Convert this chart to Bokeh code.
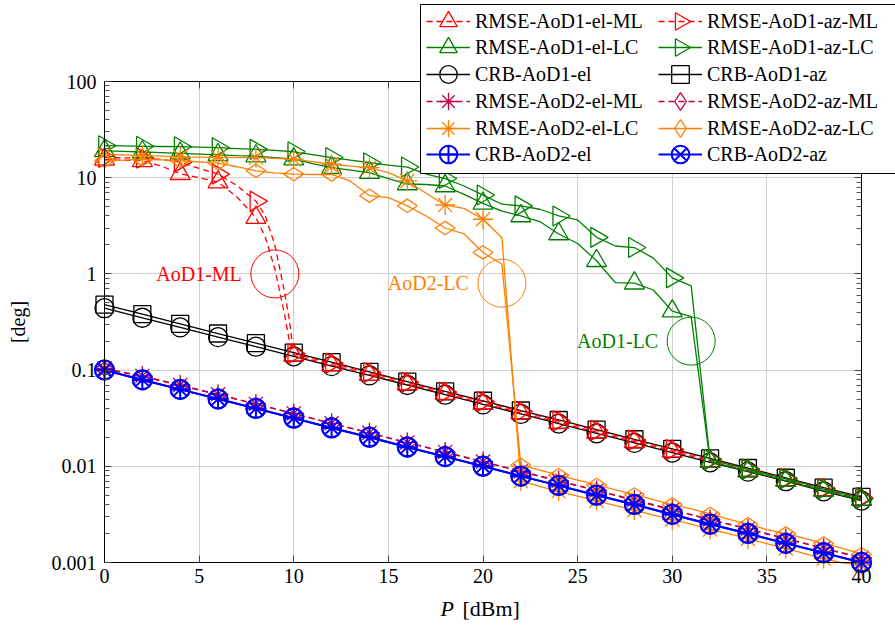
import math
import numpy as np
from bokeh.plotting import figure
from bokeh.models import (FixedTicker, LinearAxis, LogAxis, CustomJSTickFormatter, Range1d,
                          LinearScale, Legend, LegendItem, Label, BoxAnnotation, ColumnDataSource)
from bokeh.core.properties import value
from bokeh.embed import file_html
from bokeh.resources import INLINE

# ---------------- data ----------------
P_1dB = list(range(0, 41))
P_2dB = list(range(0, 41, 2))
P_ml1 = [0, 1, 2, 3, 4, 5, 6, 7, 8, 8.5, 9, 9.5, 9.75, 10] + list(range(12, 41, 2))

rmse_aod1_el_ml = [15.5, 15.2, 15.0, 13.2, 11.0, 10.0, 9.0, 6.3, 3.85, 2.4, 1.13, 0.39, 0.21, 0.142,
                   0.113, 0.09, 0.0715, 0.057, 0.045, 0.0358, 0.0285, 0.0226, 0.018, 0.0143,
                   0.0113, 0.009, 0.0072, 0.0057, 0.0045]
rmse_aod1_az_ml = [16.2, 16.1, 16.0, 15.5, 14.5, 12.5, 10.9, 8.3, 5.7, 4.0, 2.0, 0.67, 0.35, 0.148,
                   0.118, 0.094, 0.0745, 0.059, 0.047, 0.0373, 0.0297, 0.0236, 0.0187, 0.0149,
                   0.0118, 0.0094, 0.0075, 0.0059, 0.0047]

rmse_aod1_el_lc = [19.0, 18.8, 18.5, 18.2, 17.9, 17.6, 17.3, 17.0, 16.8, 16.2, 15.6,
                   14.0, 12.7, 12.0, 11.3, 9.8, 8.6, 8.5, 8.2, 6.7, 5.4,
                   4.5, 4.0, 3.5, 2.6, 2.07, 1.37, 0.81, 0.80, 0.68, 0.41, 0.36,
                   0.0112, 0.0100, 0.0089, 0.0080, 0.0071, 0.0063, 0.0056, 0.0050, 0.0045]
rmse_aod1_az_lc = [21.5, 21.4, 21.2, 21.1, 21.0, 20.8, 20.5, 20.1, 19.7, 19.2, 18.6,
                   17.4, 16.2, 15.2, 14.3, 13.5, 12.9, 10.9, 9.8, 8.2, 6.6,
                   5.3, 5.1, 4.7, 4.0, 3.64, 2.4, 1.95, 1.88, 1.46, 0.91, 0.75,
                   0.0117, 0.0104, 0.0093, 0.0083, 0.0074, 0.0066, 0.0058, 0.0052, 0.0046]

crb_aod1_el = [0.44, 0.35, 0.278, 0.22, 0.175, 0.139, 0.11, 0.088, 0.07, 0.0555, 0.044,
               0.035, 0.0278, 0.022, 0.0175, 0.0139, 0.011, 0.0088, 0.007, 0.0055, 0.0044]
crb_aod1_az = [0.48, 0.381, 0.303, 0.24, 0.191, 0.152, 0.121, 0.096, 0.076, 0.06, 0.048,
               0.038, 0.0303, 0.024, 0.0191, 0.0152, 0.0121, 0.0096, 0.0076, 0.006, 0.0048]

rmse_aod2_el_ml = [0.104, 0.087, 0.07, 0.056, 0.0445, 0.0354, 0.028, 0.0223, 0.0177, 0.0141, 0.0112,
                   0.0089, 0.0071, 0.0056, 0.0045, 0.00355, 0.0028, 0.00224, 0.00178, 0.00141, 0.00112]
rmse_aod2_az_ml = [0.103, 0.086, 0.069, 0.0555, 0.0442, 0.0352, 0.0279, 0.0222, 0.0176, 0.014, 0.0111,
                   0.0088, 0.007, 0.0056, 0.0044, 0.00352, 0.0028, 0.00222, 0.00176, 0.0014, 0.00111]

rmse_aod2_el_lc = [17.5, 17.3, 17.0, 16.8, 16.5, 16.4, 16.3, 16.2, 16.2, 15.9, 15.6,
                   14.7, 13.8, 13.2, 12.7, 11.3, 9.25, 6.9, 5.2, 4.8, 3.7, 2.38,
                   0.0070, 0.0062, 0.0055, 0.0049, 0.0044, 0.0039, 0.0035, 0.0031, 0.0028,
                   0.0025, 0.0022, 0.0020, 0.00176, 0.00157, 0.0014, 0.00124, 0.0011, 0.00099, 0.00094]
rmse_aod2_az_lc = [15.0, 15.2, 15.5, 15.3, 15.0, 14.6, 14.2, 13.0, 11.8, 11.2, 10.9,
                   10.8, 10.8, 9.2, 6.5, 6.2, 5.1, 4.0, 3.0, 2.6, 1.67, 1.26,
                   0.0103, 0.0091, 0.0081, 0.0072, 0.0064, 0.0057, 0.0051, 0.0045, 0.0040,
                   0.0036, 0.0032, 0.0028, 0.0025, 0.0022, 0.0020, 0.00178, 0.00158, 0.0014, 0.00122]

crb_aod2_el = [0.1, 0.079, 0.063, 0.05, 0.04, 0.0316, 0.025, 0.02, 0.0158, 0.0126, 0.01,
               0.0079, 0.0063, 0.005, 0.004, 0.00316, 0.0025, 0.002, 0.00158, 0.00126, 0.001]
crb_aod2_az = [0.1, 0.0795, 0.063, 0.0502, 0.0399, 0.0317, 0.0251, 0.02, 0.0159, 0.0126, 0.01,
               0.0079, 0.0063, 0.005, 0.004, 0.00316, 0.0025, 0.002, 0.00158, 0.00126, 0.001]

x_ticks = [0, 5, 10, 15, 20, 25, 30, 35, 40]
y_ticks = [0.001, 0.01, 0.1, 1, 10, 100]
y_tick_labels = ["0.001", "0.01", "0.1", "1", "10", "100"]
y_minor = [m * 10.0 ** e for e in range(-3, 2) for m in range(2, 10)]

ann_x = [9, 21, 31]
ann_y = [1.0, 0.8, 0.2]
ann_text = ["AoD1-ML", "AoD2-LC", "AoD1-LC"]

# ---------------- layout / style ----------------
W, H = 895, 630
BOX_L, BOX_R, BOX_T, BOX_B = 104, 861, 81, 562     # plot box in page pixels
X0, X1 = 0, 40
Y0, Y1 = 0.001, 100

# the frame covers the whole page so that the legend may overlap the box edge
ppx = (BOX_R - BOX_L) / (X1 - X0)
ppd = (BOX_B - BOX_T) / (math.log10(Y1) - math.log10(Y0))
x_range = Range1d(X0 - BOX_L / ppx, X1 + (W - BOX_R) / ppx)
y_range = Range1d(10 ** (math.log10(Y0) - (H - BOX_B) / ppd), 10 ** (math.log10(Y1) + BOX_T / ppd))

FONT = "Liberation Serif"
RED, GREEN, BLACK = "#ff0000", "#008000", "#000000"
PURPLE, ORANGE, BLUE = "#bf0040", "#ff8000", "#0000ff"
DASH = "6 4"

p = figure(width=W, height=H, y_axis_type="log", x_range=x_range, y_range=y_range,
           output_backend="svg", toolbar_location=None, min_border=0,
           min_border_left=0, min_border_right=0, min_border_top=0, min_border_bottom=0)
p.background_fill_color = "white"
p.border_fill_color = "white"
p.outline_line_color = None
# page-pixel coordinate system (origin top-left) for the legend keys
p.extra_x_ranges = {"px": Range1d(0, W)}
p.extra_y_ranges = {"px": Range1d(H, 0)}
p.extra_x_scales = {"px": LinearScale()}
p.extra_y_scales = {"px": LinearScale()}


def style_axis(ax, labels=True):
    ax.axis_line_color = "black"
    ax.axis_line_width = 1
    ax.major_tick_in = 7
    ax.major_tick_out = 0
    ax.minor_tick_in = 5
    ax.minor_tick_out = 0
    ax.major_tick_line_color = "#444444"
    ax.minor_tick_line_color = "#555555"
    ax.major_label_text_font = FONT
    ax.major_label_text_font_size = "20px"
    ax.major_label_text_color = "black"
    if not labels:
        ax.formatter = CustomJSTickFormatter(code="return ''")


xaxis = p.xaxis[0]
yaxis = p.yaxis[0]
xaxis.ticker = FixedTicker(ticks=x_ticks)
yaxis.ticker = FixedTicker(ticks=y_ticks, minor_ticks=y_minor)
yaxis.major_label_overrides = dict(zip(y_ticks, y_tick_labels))
xaxis.fixed_location = Y0
yaxis.fixed_location = X0
xaxis.bounds = (X0, X1)
yaxis.bounds = (Y0, Y1)
style_axis(xaxis)
style_axis(yaxis)
xaxis.minor_tick_line_color = None
xaxis.major_label_standoff = 6
yaxis.major_label_standoff = 8
yaxis.axis_label = "[deg]"
yaxis.axis_label_text_font = FONT
yaxis.axis_label_text_font_size = "20px"
yaxis.axis_label_text_font_style = "normal"
yaxis.axis_label_text_color = "black"
yaxis.axis_label_standoff = 20

top_axis = LinearAxis(ticker=FixedTicker(ticks=x_ticks), fixed_location=Y1, bounds=(X0, X1))
style_axis(top_axis, labels=False)
top_axis.minor_tick_line_color = None
p.add_layout(top_axis, "above")
right_axis = LogAxis(ticker=FixedTicker(ticks=y_ticks, minor_ticks=y_minor), fixed_location=X1,
                     bounds=(Y0, Y1))
style_axis(right_axis, labels=False)
p.add_layout(right_axis, "right")

p.xgrid.ticker = FixedTicker(ticks=x_ticks)
p.ygrid.ticker = FixedTicker(ticks=y_ticks)
p.xgrid.grid_line_color = "#cfcfcf"
p.ygrid.grid_line_color = "#cfcfcf"
p.xgrid.grid_line_width = 1
p.ygrid.grid_line_width = 1

# white covers that hide the grid outside the plot box
for kw in (dict(bottom=Y1), dict(top=Y0), dict(right=X0), dict(left=X1)):
    p.add_layout(BoxAnnotation(level="underlay", fill_color="white", fill_alpha=1,
                               line_alpha=0, line_width=0, **kw))

R = -np.pi / 2
LW = 1.3
series = {}


def add_series(label, x, y, color, dash, marker, angle=0.0, size=18, lw=LW):
    line = p.line(x, y, line_color=color, line_width=lw, line_dash=dash)
    mx, my = [], []
    for xi, yi in zip(x, y):
        if float(xi).is_integer() and int(xi) % 2 == 0:
            mx.append(xi)
            my.append(yi)
    sc = p.scatter(mx, my, marker=marker, size=size, angle=angle, fill_color=None,
                   line_color=color, line_width=lw)
    series[label] = dict(line=line, sc=sc, color=color, marker=marker, angle=angle, lw=lw)


add_series("CRB-AoD1-el", P_2dB, crb_aod1_el, BLACK, "solid", "circle", size=19)
add_series("CRB-AoD1-az", P_2dB, crb_aod1_az, BLACK, "solid", "square", size=17)
add_series("RMSE-AoD1-el-ML", P_ml1, rmse_aod1_el_ml, RED, DASH, "triangle", size=20)
add_series("RMSE-AoD1-az-ML", P_ml1, rmse_aod1_az_ml, RED, DASH, "triangle", angle=R, size=20)
add_series("RMSE-AoD1-el-LC", P_1dB, rmse_aod1_el_lc, GREEN, "solid", "triangle", size=20)
add_series("RMSE-AoD1-az-LC", P_1dB, rmse_aod1_az_lc, GREEN, "solid", "triangle", angle=R, size=20)
add_series("RMSE-AoD2-el-ML", P_2dB, rmse_aod2_el_ml, PURPLE, DASH, "asterisk", size=20)
add_series("RMSE-AoD2-az-ML", P_2dB, rmse_aod2_az_ml, PURPLE, DASH, "diamond", angle=np.pi / 2, size=20)
add_series("RMSE-AoD2-el-LC", P_1dB, rmse_aod2_el_lc, ORANGE, "solid", "asterisk", size=20)
add_series("RMSE-AoD2-az-LC", P_1dB, rmse_aod2_az_lc, ORANGE, "solid", "diamond", angle=np.pi / 2, size=20)
add_series("CRB-AoD2-el", P_2dB, crb_aod2_el, BLUE, "solid", "circle_cross", size=19, lw=2.0)
add_series("CRB-AoD2-az", P_2dB, crb_aod2_az, BLUE, "solid", "circle_x", size=19, lw=2.0)

# annotations
ann_src = ColumnDataSource(dict(x=ann_x, y=ann_y, text=ann_text, color=[RED, ORANGE, GREEN]))
p.scatter("x", "y", source=ann_src, marker="circle", size=48, fill_color=None,
          line_color="color", line_width=1)
p.text("x", "y", text="text", source=ann_src, text_color="color", text_font=value(FONT),
       text_font_size=value("20px"), text_align="right", text_baseline="middle", x_offset=-33)

# legend: framed white box + one small legend per entry (two columns of six rows)
p.add_layout(BoxAnnotation(left=420, right=W + 10, top=H - 4, bottom=H - 173,
                           left_units="screen", right_units="screen", top_units="screen",
                           bottom_units="screen", fill_color="white", fill_alpha=1,
                           line_color="black", line_width=1, line_alpha=1))
col1 = ["RMSE-AoD1-el-ML", "RMSE-AoD1-el-LC", "CRB-AoD1-el", "RMSE-AoD2-el-ML", "RMSE-AoD2-el-LC", "CRB-AoD2-el"]
col2 = ["RMSE-AoD1-az-ML", "RMSE-AoD1-az-LC", "CRB-AoD1-az", "RMSE-AoD2-az-ML", "RMSE-AoD2-az-LC", "CRB-AoD2-az"]
GH = 44
for names, lx in ((col1, 426), (col2, 658)):
    for i, k in enumerate(names):
        s = series[k]
        cy = 20.7 + 26.7 * i
        rotated = s["angle"] != 0 and s["marker"] == "triangle"
        rends = [s["line"]] if rotated else [s["line"], s["sc"]]
        lg = Legend(items=[LegendItem(label=k, renderers=rends)],
                    location=(lx, round(H - (cy + GH / 2))), orientation="vertical",
                    label_text_font=FONT, label_text_font_size="20px", label_text_color="black",
                    label_height=20, glyph_height=GH, glyph_width=GH, label_standoff=5,
                    spacing=0, padding=0, margin=0, border_line_color=None,
                    background_fill_alpha=0)
        p.add_layout(lg)
        if rotated:
            # legend keys ignore the marker angle, so draw the right-pointing triangle here
            p.scatter([lx + GH / 2], [round(cy)], marker="triangle", angle=s["angle"],
                      size=0.4 * GH, fill_color=None, line_color=s["color"], line_width=s["lw"],
                      x_range_name="px", y_range_name="px", level="overlay")

# x axis title (italic P)
p.add_layout(Label(x=440, y=H - 608, x_units="screen", y_units="screen", text="P", text_font=FONT,
                   text_font_style="italic", text_font_size="22px", text_baseline="middle",
                   text_align="left", text_color="black"))
p.add_layout(Label(x=462, y=H - 608, x_units="screen", y_units="screen", text="[dBm]", text_font=FONT,
                   text_font_size="22px", text_baseline="middle", text_align="left",
                   text_color="black"))

open("out.html", "w").write(file_html(p, INLINE))
